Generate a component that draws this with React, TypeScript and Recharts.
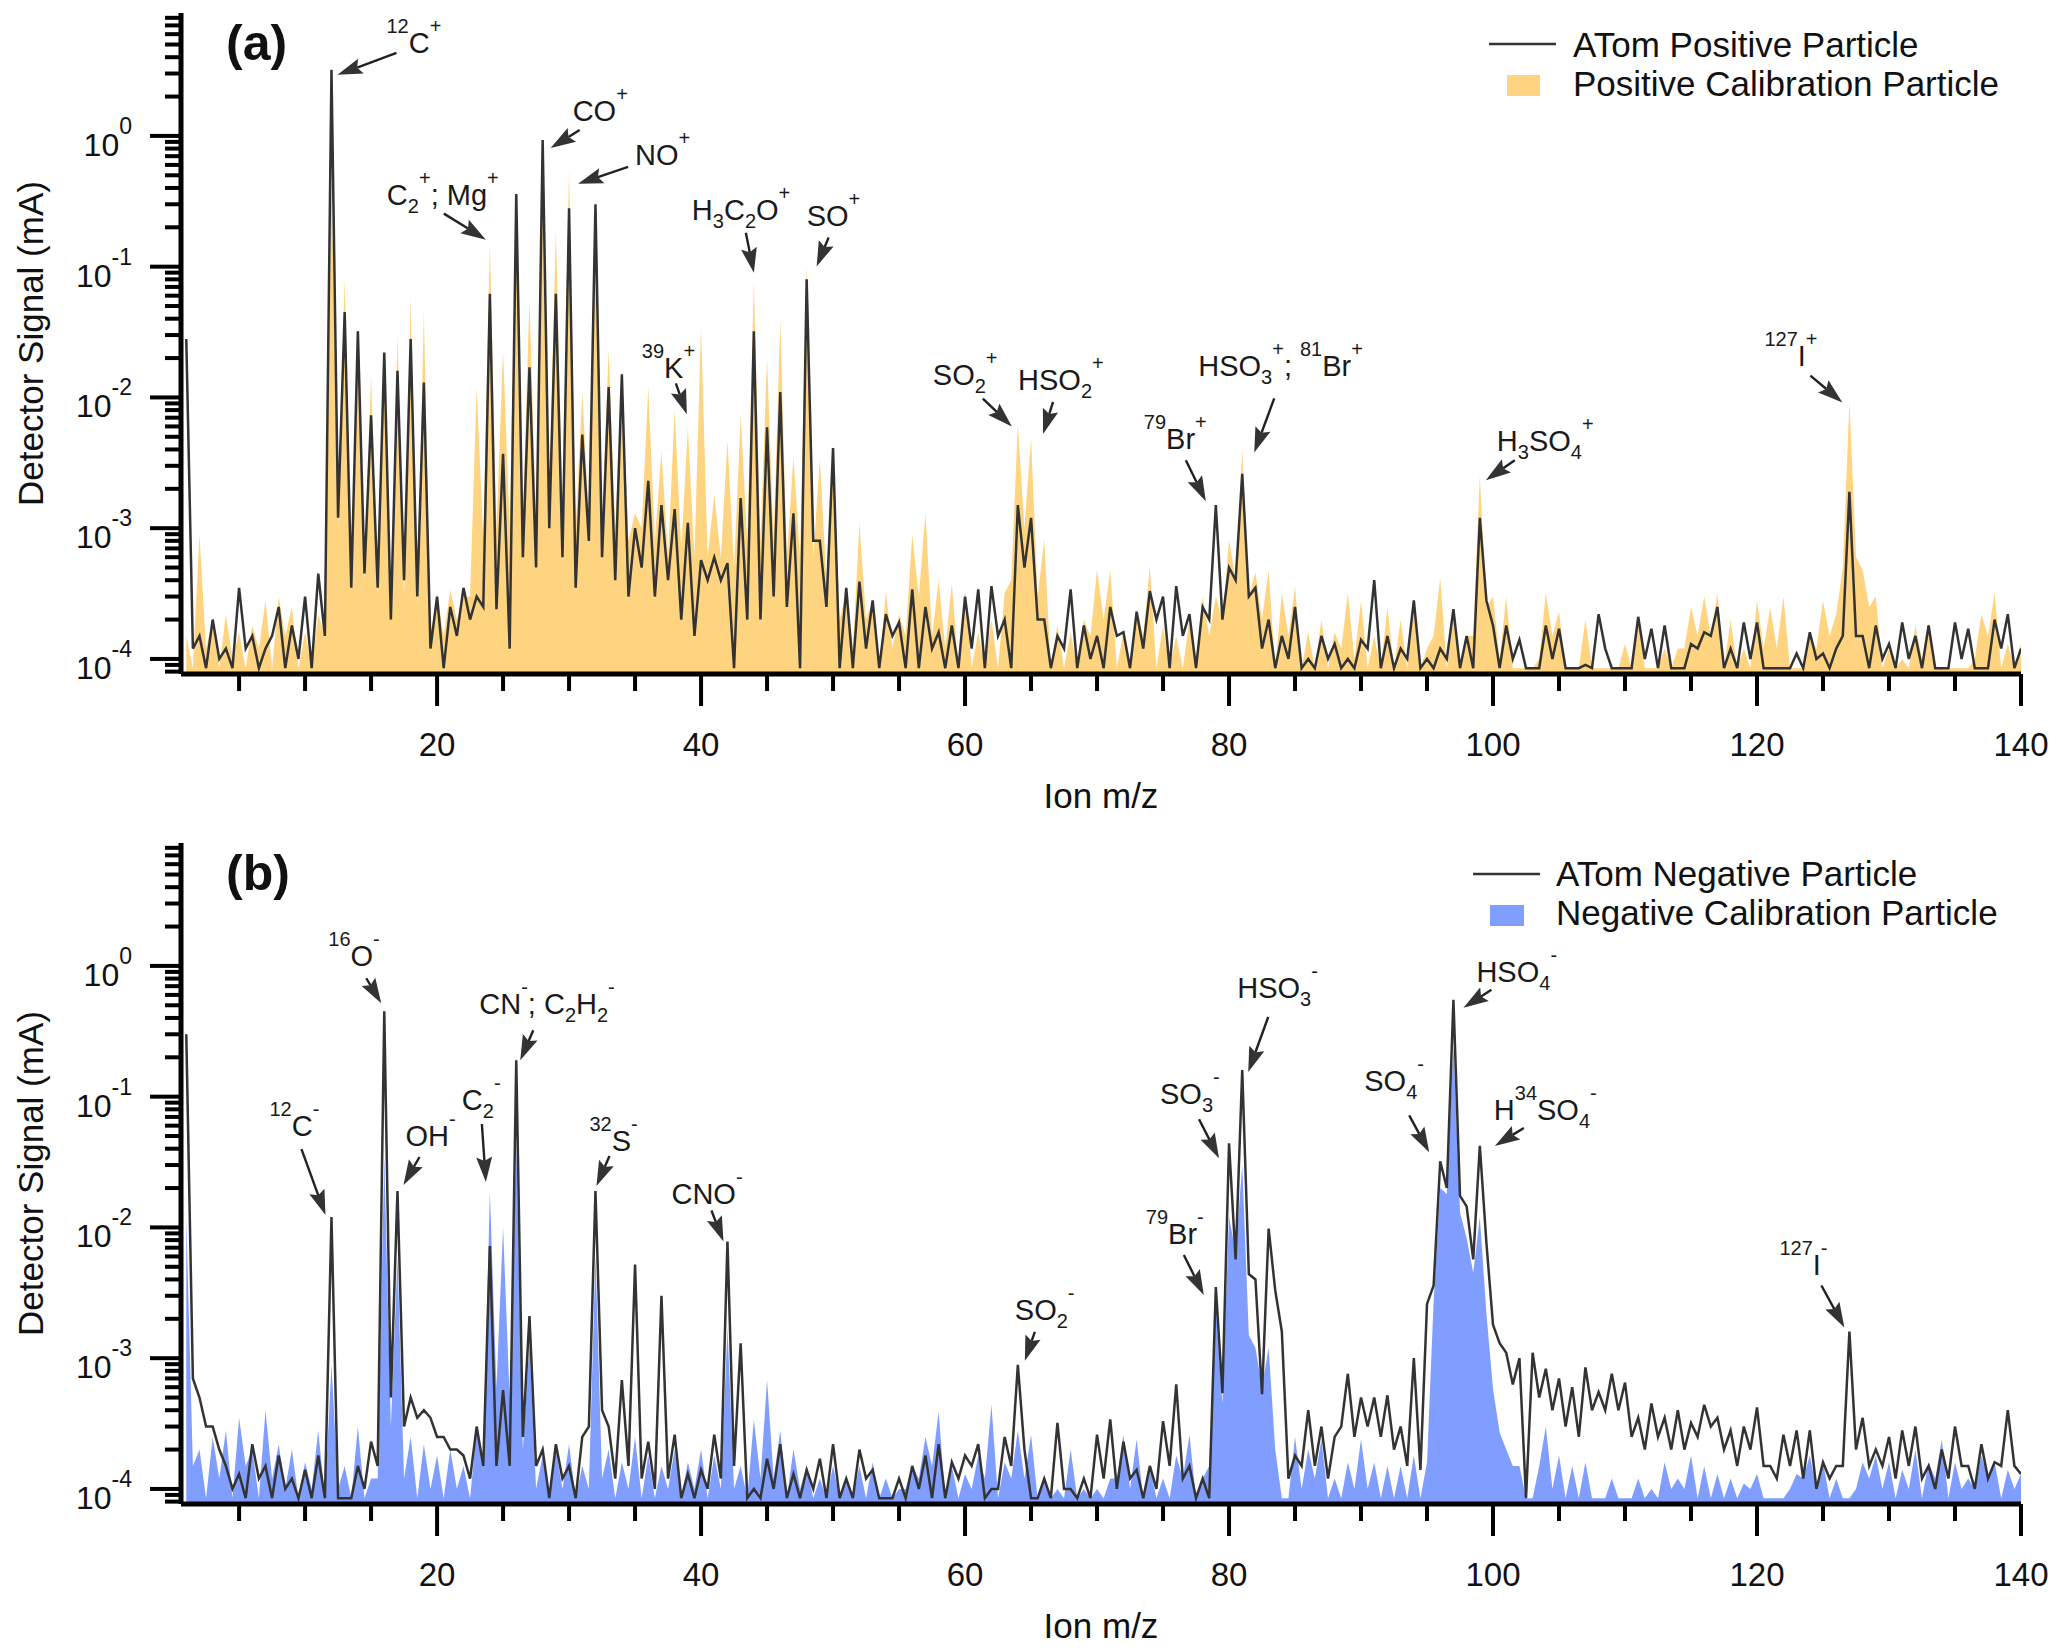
import React from 'react';
import { ComposedChart, Area, Line, XAxis, YAxis, ReferenceDot, Legend } from 'recharts';

const FONT = '"Liberation Sans", Arial, Helvetica, sans-serif';
const W = 2067;
const H = 825;
const Y_MIN = 7.67e-5;
const Y_MAX = 8.71;
const FLOOR = 8.5e-5; // detection floor where the traces are clipped
const ORANGE = '#FFD480';
const BLUE = '#809EFF';
const INK = '#333333';

// ---------- axis ticks ----------
const X_TICKS = [5, 10, 15, 20, 25, 30, 35, 40, 45, 50, 55, 60, 65, 70, 75, 80, 85, 90, 95, 100, 105, 110, 115, 120, 125, 130, 135, 140];
const X_LABELS = [20, 40, 60, 80, 100, 120, 140];
const Y_TICKS = [
  8e-5, 9e-5,
  1e-4, 2e-4, 3e-4, 4e-4, 5e-4, 6e-4, 7e-4, 8e-4, 9e-4,
  1e-3, 2e-3, 3e-3, 4e-3, 5e-3, 6e-3, 7e-3, 8e-3, 9e-3,
  1e-2, 2e-2, 3e-2, 4e-2, 5e-2, 6e-2, 7e-2, 8e-2, 9e-2,
  0.1, 0.2, 0.3, 0.4, 0.5, 0.6, 0.7, 0.8, 0.9,
  1, 2, 3, 4, 5, 6, 7, 8,
];
const Y_MAJOR = [1e-4, 1e-3, 1e-2, 1e-1, 1];
const Y_MAJOR_EXP = ['-4', '-3', '-2', '-1', '0'];

// ---------- panel (a): positive spectra ----------
// peak value at integer m/z 1..140 (0 = below floor)
const atomPosPeaks = [
  2.8e-2, 1.5e-4, 2.0e-4, 1.2e-4, 3.5e-4, 1.5e-4, 1.2e-4, 2.5e-4, 1.8e-4, 3.0e-4,
  4.5e-4, 3.2, 4.5e-2, 3.2e-2, 7.3e-3, 2.2e-2, 1.6e-2, 2.8e-2, 1.3e-2, 3.0e-4,
  2.5e-4, 3.5e-4, 3.0e-4, 6.2e-2, 3.7e-3, 3.6e-1, 1.7e-2, 9.3e-1, 6.2e-2, 2.8e-1,
  5.2e-3, 3.0e-1, 1.2e-2, 1.5e-2, 1.0e-3, 2.3e-3, 1.5e-3, 1.4e-3, 1.1e-3, 5.7e-4,
  6.0e-4, 5.4e-4, 1.7e-3, 3.2e-2, 5.9e-3, 1.1e-2, 1.3e-3, 8.0e-2, 8.0e-4, 4.1e-3,
  3.5e-4, 3.9e-4, 2.8e-4, 2.2e-4, 1.9e-4, 3.4e-4, 2.5e-4, 1.6e-4, 1.8e-4, 3.0e-4,
  3.4e-4, 3.6e-4, 2.0e-4, 1.5e-3, 1.2e-3, 2.0e-4, 1.5e-4, 3.4e-4, 1.8e-4, 1.5e-4,
  2.5e-4, 1.6e-4, 2.3e-4, 3.3e-4, 3.0e-4, 3.6e-4, 2.2e-4, 2.5e-4, 1.5e-3, 5.0e-4,
  2.6e-3, 3.5e-4, 2.0e-4, 1.5e-4, 2.5e-4, 1.0e-4, 1.5e-4, 1.3e-4, 1.0e-4, 1.4e-4,
  4.0e-4, 1.5e-4, 1.2e-4, 2.8e-4, 1.0e-4, 1.2e-4, 2.4e-4, 1.5e-4, 1.2e-3, 1.8e-4,
  1.8e-4, 1.4e-4, 0, 1.8e-4, 1.7e-4, 0, 9.0e-5, 2.2e-4, 0, 0,
  2.1e-4, 1.7e-4, 1.8e-4, 0, 1.3e-4, 1.6e-4, 2.5e-4, 1.2e-4, 1.9e-4, 1.9e-4,
  0, 0, 1.1e-4, 1.6e-4, 1.1e-4, 1.2e-4, 1.9e-3, 1.5e-4, 1.8e-4, 1.3e-4,
  1.9e-4, 1.5e-4, 1.8e-4, 0, 1.9e-4, 1.7e-4, 0, 2.0e-4, 2.2e-4, 1.2e-4,
];
// value between peaks at m/z 1.5..139.5
const atomPosValleys = [
  1.2e-4, 0, 1.0e-4, 0, 1.2e-4, 0, 1.5e-4, 0, 1.0e-4, 0,
  1.5e-4, 1.2e-3, 3.5e-4, 4.5e-4, 3.5e-4, 2.0e-4, 4.0e-4, 3.0e-4, 1.2e-4, 0,
  1.5e-4, 2.0e-4, 2.5e-4, 2.4e-4, 1.2e-4, 6.0e-4, 5.0e-4, 1.0e-3, 6.0e-4, 3.5e-4,
  8.0e-4, 6.0e-4, 4.0e-4, 3.0e-4, 5.0e-4, 3.0e-4, 4.0e-4, 2.0e-4, 1.5e-4, 4.0e-4,
  4.0e-4, 0, 2.0e-4, 2.0e-4, 3.0e-4, 2.5e-4, 0, 8.0e-4, 2.5e-4, 0,
  0, 1.2e-4, 0, 1.5e-4, 0, 0, 1.2e-4, 0, 0, 1.2e-4,
  0, 1.5e-4, 0, 5.0e-4, 2.0e-4, 0, 1.2e-4, 0, 1.0e-4, 0,
  1.5e-4, 0, 1.2e-4, 2.0e-4, 0, 1.5e-4, 0, 2.0e-4, 2.0e-4, 4.0e-4,
  3.0e-4, 1.2e-4, 0, 1.0e-4, 0, 0, 1.0e-4, 0, 0, 1.2e-4,
  0, 0, 1.0e-4, 0, 0, 1.0e-4, 0, 0, 2.8e-4, 0,
  1.0e-4, 0, 0, 1.0e-4, 0, 0, 0, 1.2e-4, 0, 0,
  1.0e-4, 0, 0, 0, 1.2e-4, 1.5e-4, 0, 0, 1.0e-4, 0,
  0, 0, 0, 1.0e-4, 0, 1.5e-4, 1.5e-4, 0, 1.0e-4, 0,
  1.0e-4, 0, 0, 0, 1.0e-4, 0, 0, 1.2e-4, 0,
];
const calPosPeaks = [
  1.5e-4, 9.0e-4, 2.0e-4, 2.2e-4, 1.6e-4, 1.8e-4, 2.8e-4, 3.0e-4, 2.5e-4, 1.6e-4,
  2.2e-4, 4.7e-1, 8.2e-2, 2.8e-2, 1.5e-2, 2.4e-2, 3.0e-2, 5.8e-2, 4.6e-2, 3.2e-4,
  3.4e-4, 3.0e-4, 1.2e-2, 1.5e-1, 2.3e-2, 3.3e-1, 5.6e-2, 8.5e-1, 1.9e-1, 5.6e-1,
  1.1e-2, 2.8e-1, 2.3e-2, 1.4e-2, 1.3e-3, 1.2e-2, 3.9e-3, 8.1e-3, 5.8e-3, 3.5e-2,
  1.8e-3, 4.7e-3, 7.2e-3, 7.8e-2, 2.0e-2, 4.0e-2, 3.5e-3, 1.04e-1, 3.4e-3, 4.4e-3,
  3.2e-4, 1.1e-3, 2.8e-4, 3.3e-4, 2.2e-4, 9.0e-4, 1.3e-3, 4.0e-4, 3.8e-4, 3.4e-4,
  1.6e-4, 2.0e-4, 3.2e-4, 6.2e-3, 4.9e-3, 8.2e-4, 1.8e-4, 1.6e-4, 2.0e-4, 4.8e-4,
  4.8e-4, 1.6e-4, 2.2e-4, 5.1e-4, 1.8e-4, 1.5e-4, 2.0e-4, 3.0e-4, 3.0e-4, 8.2e-4,
  4.0e-3, 4.6e-4, 4.8e-4, 3.2e-4, 3.6e-4, 1.6e-4, 2.0e-4, 1.6e-4, 3.2e-4, 2.8e-4,
  1.5e-4, 2.5e-4, 2.0e-4, 2.4e-4, 1.2e-4, 4.2e-4, 2.0e-4, 1.5e-4, 2.5e-3, 3.0e-4,
  3.0e-4, 0, 0, 3.2e-4, 2.3e-4, 0, 2.0e-4, 0, 0, 1.3e-4,
  2.0e-4, 0, 1.2e-4, 1.2e-4, 2.5e-4, 3.0e-4, 3.2e-4, 2.0e-4, 1.2e-4, 2.8e-4,
  2.5e-4, 3.0e-4, 0, 1.5e-4, 2.8e-4, 2.2e-4, 9.3e-3, 4.8e-4, 3.0e-4, 1.2e-4,
  1.0e-4, 1.8e-4, 1.9e-4, 0, 0, 0, 2.2e-4, 3.2e-4, 1.3e-4, 1.3e-4,
];
const calPosValleys = [
  0, 1.2e-4, 0, 1.0e-4, 0, 1.2e-4, 0, 1.5e-4, 0, 0,
  1.5e-4, 1.0e-3, 6.0e-4, 4.0e-4, 3.0e-4, 2.0e-4, 3.0e-4, 2.5e-4, 1.5e-4, 1.5e-4,
  2.0e-4, 3.0e-4, 8.0e-4, 1.0e-3, 1.0e-3, 1.2e-3, 1.2e-3, 2.0e-3, 1.5e-3, 1.0e-3,
  1.2e-3, 1.2e-3, 1.0e-3, 8.0e-4, 1.0e-3, 8.0e-4, 6.0e-4, 7.0e-4, 6.0e-4, 6.0e-4,
  6.0e-4, 5.0e-4, 8.0e-4, 8.0e-4, 8.0e-4, 6.0e-4, 6.0e-4, 6.0e-4, 4.0e-4, 2.0e-4,
  1.2e-4, 2.0e-4, 0, 1.2e-4, 1.5e-4, 3.0e-4, 1.5e-4, 1.2e-4, 0, 0,
  0, 0, 4.0e-4, 1.0e-3, 3.0e-4, 0, 0, 0, 1.5e-4, 2.0e-4,
  0, 0, 1.5e-4, 0, 0, 0, 1.0e-4, 1.5e-4, 2.0e-4, 4.0e-4,
  3.0e-4, 2.0e-4, 0, 1.5e-4, 0, 0, 0, 1.2e-4, 1.0e-4, 0,
  0, 0, 0, 0, 1.5e-4, 0, 0, 1.5e-4, 2.5e-4, 1.0e-4,
  0, 0, 1.0e-4, 1.5e-4, 0, 0, 0, 0, 0, 0,
  0, 0, 0, 1.2e-4, 1.5e-4, 1.5e-4, 0, 0, 0, 1.2e-4,
  1.2e-4, 0, 0, 1.2e-4, 1.5e-4, 5.0e-4, 6.0e-4, 2.5e-4, 0, 0,
  0, 1.0e-4, 0, 0, 0, 1.0e-4, 1.5e-4, 0, 0,
];

// ---------- panel (b): negative spectra ----------
const atomNegPeaks = [
  3.0e-1, 5.0e-4, 3.0e-4, 1.5e-4, 1.3e-4, 2.2e-4, 1.5e-4, 1.8e-4, 1.2e-4, 1.4e-4,
  1.8e-4, 1.2e-2, 0, 1.5e-4, 2.3e-4, 4.5e-1, 1.9e-2, 5.0e-4, 4.0e-4, 2.5e-4,
  2.0e-4, 1.8e-4, 3.0e-4, 7.2e-3, 5.7e-4, 1.9e-1, 2.1e-3, 2.0e-4, 2.2e-4, 1.5e-4,
  2.5e-4, 1.9e-2, 3.0e-4, 6.8e-4, 5.2e-3, 2.3e-4, 3.0e-3, 2.6e-4, 1.3e-4, 1.4e-4,
  2.6e-4, 7.8e-3, 1.3e-3, 1.0e-4, 1.7e-4, 2.2e-4, 1.3e-4, 1.4e-4, 1.7e-4, 2.2e-4,
  1.2e-4, 2.0e-4, 1.4e-4, 0, 1.2e-4, 1.5e-4, 1.8e-4, 2.2e-4, 1.6e-4, 1.8e-4,
  2.2e-4, 1.0e-4, 2.5e-4, 8.9e-4, 0, 1.2e-4, 3.2e-4, 1.0e-4, 1.2e-4, 2.6e-4,
  3.4e-4, 2.3e-4, 1.4e-4, 1.5e-4, 3.3e-4, 6.3e-4, 1.5e-4, 1.2e-4, 3.5e-3, 4.4e-2,
  1.6e-1, 4.0e-3, 9.8e-3, 1.6e-3, 1.8e-4, 4.0e-4, 3.0e-4, 2.5e-4, 7.6e-4, 5.0e-4,
  5.0e-4, 5.2e-4, 3.0e-4, 1.0e-3, 2.6e-3, 3.2e-2, 5.5e-1, 1.45e-2, 4.2e-2, 1.8e-3,
  1.1e-3, 1.0e-3, 1.1e-3, 8.3e-4, 7.0e-4, 6.0e-4, 8.5e-4, 5.5e-4, 7.6e-4, 6.5e-4,
  3.5e-4, 4.5e-4, 3.5e-4, 4.0e-4, 3.2e-4, 4.4e-4, 3.5e-4, 2.8e-4, 3.0e-4, 4.2e-4,
  1.5e-4, 2.6e-4, 2.8e-4, 2.8e-4, 1.6e-4, 1.5e-4, 1.6e-3, 3.5e-4, 2.0e-4, 2.5e-4,
  2.8e-4, 3.0e-4, 1.5e-4, 2.0e-4, 3.0e-4, 1.5e-4, 2.2e-4, 1.6e-4, 4.0e-4, 1.3e-4,
];
const atomNegValleys = [
  7.0e-4, 3.0e-4, 2.0e-4, 1.0e-4, 0, 1.2e-4, 0, 1.0e-4, 0, 0,
  0, 0, 0, 1.0e-4, 1.5e-4, 5.0e-4, 3.0e-4, 3.5e-4, 3.5e-4, 2.5e-4,
  2.0e-4, 1.2e-4, 1.5e-4, 1.5e-4, 1.5e-4, 2.5e-4, 1.5e-4, 0, 1.2e-4, 0,
  3.0e-4, 4.0e-4, 1.2e-4, 1.5e-4, 1.2e-4, 1.0e-4, 1.2e-4, 0, 0, 1.0e-4,
  1.2e-4, 1.5e-4, 0, 0, 1.0e-4, 0, 0, 1.0e-4, 0, 0,
  0, 1.2e-4, 0, 0, 0, 1.0e-4, 0, 0, 1.2e-4, 1.5e-4,
  0, 1.0e-4, 1.5e-4, 2.0e-4, 0, 0, 1.0e-4, 0, 0, 1.2e-4,
  1.0e-4, 1.2e-4, 0, 1.0e-4, 1.5e-4, 1.2e-4, 0, 0, 5.4e-4, 5.7e-3,
  4.4e-3, 5.3e-4, 3.3e-3, 1.2e-4, 1.5e-4, 1.5e-4, 1.2e-4, 3.0e-4, 2.5e-4, 3.0e-4,
  2.5e-4, 2.0e-4, 1.5e-4, 1.4e-4, 3.6e-3, 2.0e-2, 1.74e-2, 5.7e-3, 7.6e-3, 1.3e-3,
  6.3e-4, 0, 5.0e-4, 4.0e-4, 3.0e-4, 2.5e-4, 4.0e-4, 4.0e-4, 4.0e-4, 2.5e-4,
  2.0e-4, 2.5e-4, 2.0e-4, 2.0e-4, 2.5e-4, 3.0e-4, 2.0e-4, 1.5e-4, 2.0e-4, 1.5e-4,
  1.2e-4, 1.5e-4, 1.2e-4, 1.0e-4, 1.2e-4, 1.5e-4, 2.0e-4, 1.5e-4, 1.5e-4, 1.2e-4,
  1.5e-4, 1.2e-4, 1.0e-4, 1.2e-4, 1.5e-4, 1.0e-4, 1.2e-4, 1.5e-4, 1.5e-4,
];
const calNegPeaks = [
  1.2e-2, 2.0e-4, 2.5e-4, 2.8e-4, 3.5e-4, 2.0e-4, 4.0e-4, 2.2e-4, 2.0e-4, 1.6e-4,
  2.8e-4, 9.0e-4, 1.5e-4, 3.0e-4, 1.2e-4, 3.5e-2, 5.9e-3, 2.5e-4, 2.2e-4, 1.8e-4,
  2.0e-4, 1.5e-4, 2.8e-4, 1.9e-2, 1.0e-2, 4.3e-2, 1.3e-3, 1.8e-4, 2.0e-4, 2.2e-4,
  1.5e-4, 6.1e-3, 2.0e-4, 1.6e-4, 2.5e-4, 1.8e-4, 1.5e-4, 2.0e-4, 1.6e-4, 2.0e-4,
  1.8e-4, 1.7e-3, 1.5e-4, 3.4e-4, 6.8e-4, 2.8e-4, 2.0e-4, 1.5e-4, 1.2e-4, 1.5e-4,
  1.2e-4, 1.5e-4, 1.6e-4, 1.2e-4, 1.0e-4, 1.5e-4, 2.5e-4, 3.9e-4, 1.5e-4, 1.3e-4,
  1.8e-4, 4.4e-4, 1.6e-4, 2.8e-4, 2.6e-4, 1.2e-4, 1.0e-4, 2.0e-4, 1.0e-4, 1.0e-4,
  1.2e-4, 2.6e-4, 2.4e-4, 1.5e-4, 1.2e-4, 1.8e-4, 2.6e-4, 1.2e-4, 2.5e-3, 1.2e-2,
  3.0e-2, 1.2e-3, 1.2e-3, 0, 2.5e-4, 2.0e-4, 2.4e-4, 1.2e-4, 1.6e-4, 2.4e-4,
  1.6e-4, 1.5e-4, 1.5e-4, 1.8e-4, 1.6e-4, 2.0e-2, 2.5e-1, 8.3e-3, 1.2e-2, 5.8e-4,
  2.0e-4, 1.5e-4, 0, 3.0e-4, 1.8e-4, 1.5e-4, 1.6e-4, 0, 1.2e-4, 0,
  1.2e-4, 1.0e-4, 1.6e-4, 1.2e-4, 1.8e-4, 1.5e-4, 1.3e-4, 1.2e-4, 1.1e-4, 1.3e-4,
  0, 0, 1.3e-4, 1.8e-4, 1.6e-4, 1.2e-4, 0, 1.6e-4, 1.8e-4, 1.6e-4,
  1.4e-4, 2.0e-4, 1.6e-4, 2.4e-4, 1.6e-4, 1.2e-4, 1.8e-4, 1.6e-4, 1.4e-4, 1.3e-4,
];
const calNegValleys = [
  1.5e-4, 0, 1.2e-4, 0, 1.5e-4, 0, 1.2e-4, 1.0e-4, 0, 1.0e-4,
  0, 1.0e-4, 0, 0, 1.2e-4, 3.0e-4, 1.2e-4, 0, 1.0e-4, 0,
  1.0e-4, 0, 1.5e-4, 6.0e-4, 5.0e-4, 2.0e-4, 1.0e-4, 0, 1.0e-4, 0,
  1.0e-4, 1.2e-4, 0, 1.0e-4, 0, 0, 1.0e-4, 0, 1.0e-4, 0,
  1.0e-4, 1.0e-4, 0, 1.2e-4, 1.2e-4, 0, 1.0e-4, 0, 0, 0,
  0, 0, 0, 0, 1.0e-4, 1.2e-4, 1.5e-4, 0, 0, 1.0e-4,
  1.2e-4, 0, 1.2e-4, 1.2e-4, 0, 0, 0, 0, 0, 0,
  1.2e-4, 1.0e-4, 0, 0, 0, 1.2e-4, 0, 1.5e-4, 4.5e-4, 6.5e-3,
  1.5e-3, 6.0e-4, 2.0e-4, 0, 1.0e-4, 1.2e-4, 0, 0, 1.0e-4, 1.0e-4,
  0, 0, 0, 0, 2.7e-3, 1.8e-2, 1.3e-2, 4.5e-3, 2.2e-3, 2.7e-4,
  1.5e-4, 0, 1.5e-4, 1.0e-4, 0, 0, 0, 0, 0, 0,
  0, 0, 1.0e-4, 1.0e-4, 0, 0, 0, 0, 1.0e-4, 0,
  0, 1.0e-4, 1.2e-4, 1.0e-4, 0, 0, 1.0e-4, 1.2e-4, 1.0e-4, 0,
  1.0e-4, 0, 1.2e-4, 0, 1.0e-4, 1.0e-4, 1.2e-4, 0, 1.0e-4,
];

// ---------- peak annotations (anchored on data coords, offsets are layout) ----------
type Seg = [string, string?];
type Ann = { m: number; v: number; tip: [number, number]; tail: [number, number]; text: [number, number]; label: Seg[] };

const annPos: Ann[] = [
  { m: 12, v: 3.2, tip: [6, 5], tail: [65, -17], text: [55, -17], label: [['12', 'sup'], ['C'], ['+', 'sup']] },
  { m: 24, v: 0.15, tip: [-4, -4], tail: [-46, -30], text: [-103, -39], label: [['C'], ['2', 'sub'], ['+', 'sup'], ['; Mg'], ['+', 'sup']] },
  { m: 28, v: 0.93, tip: [8, 8], tail: [37, -10], text: [30, -19], label: [['CO'], ['+', 'sup']] },
  { m: 30, v: 0.56, tip: [9, 15], tail: [59, -2], text: [66, -4], label: [['NO'], ['+', 'sup']] },
  { m: 39, v: 5.8e-3, tip: [-1, -14], tail: [-12, -45], text: [-46, -50], label: [['39', 'sup'], ['K'], ['+', 'sup']] },
  { m: 44, v: 7.8e-2, tip: [0, -8], tail: [-8, -48], text: [-62, -61], label: [['H'], ['3', 'sub'], ['C'], ['2', 'sub'], ['O'], ['+', 'sup']] },
  { m: 48, v: 0.104, tip: [10, 2], tail: [22, -27], text: [0, -38], label: [['SO'], ['+', 'sup']] },
  { m: 64, v: 6.2e-3, tip: [-6, 2], tail: [-35, -26], text: [-85, -40], label: [['SO'], ['2', 'sub'], ['+', 'sup']] },
  { m: 65, v: 4.9e-3, tip: [12, -4], tail: [22, -36], text: [-13, -48], label: [['HSO'], ['2', 'sub'], ['+', 'sup']] },
  { m: 79, v: 1.5e-3, tip: [-10, -4], tail: [-30, -45], text: [-72, -56], label: [['79', 'sup'], ['Br'], ['+', 'sup']] },
  { m: 81, v: 4.0e-3, tip: [12, 3], tail: [32, -51], text: [-44, -73], label: [['HSO'], ['3', 'sub'], ['+', 'sup'], ['; '], ['81', 'sup'], ['Br'], ['+', 'sup']] },
  { m: 99, v: 2.5e-3, tip: [6, 4], tail: [35, -16], text: [17, -25], label: [['H'], ['3', 'sub'], ['SO'], ['4', 'sub'], ['+', 'sup']] },
  { m: 127, v: 9.3e-3, tip: [-7, 1], tail: [-39, -26], text: [-85, -36], label: [['127', 'sup'], ['I'], ['+', 'sup']] },
];
const annNeg: Ann[] = [
  { m: 12, v: 1.2e-2, tip: [-6, -2], tail: [-30, -68], text: [-62, -81], label: [['12', 'sup'], ['C'], ['-', 'sup']] },
  { m: 16, v: 0.45, tip: [-3, -8], tail: [-18, -33], text: [-56, -45], label: [['16', 'sup'], ['O'], ['-', 'sup']] },
  { m: 17, v: 1.9e-2, tip: [6, -6], tail: [22, -34], text: [8, -45], label: [['OH'], ['-', 'sup']] },
  { m: 24, v: 1.9e-2, tip: [-4, -9], tail: [-8, -67], text: [-28, -81], label: [['C'], ['2', 'sub'], ['-', 'sup']] },
  { m: 26, v: 0.19, tip: [4, 0], tail: [17, -30], text: [-37, -46], label: [['CN'], ['-', 'sup'], ['; C'], ['2', 'sub'], ['H'], ['2', 'sub'], ['-', 'sup']] },
  { m: 32, v: 1.9e-2, tip: [1, -5], tail: [14, -35], text: [-6, -40], label: [['32', 'sup'], ['S'], ['-', 'sup']] },
  { m: 42, v: 7.8e-3, tip: [-4, 0], tail: [-16, -31], text: [-56, -38], label: [['CNO'], ['-', 'sup']] },
  { m: 64, v: 8.9e-4, tip: [7, -4], tail: [17, -33], text: [-3, -45], label: [['SO'], ['2', 'sub'], ['-', 'sup']] },
  { m: 79, v: 3.5e-3, tip: [-12, 8], tail: [-32, -32], text: [-70, -43], label: [['79', 'sup'], ['Br'], ['-', 'sup']] },
  { m: 80, v: 4.4e-2, tip: [-10, 15], tail: [-30, -24], text: [-69, -39], label: [['SO'], ['3', 'sub'], ['-', 'sup']] },
  { m: 81, v: 0.16, tip: [6, 2], tail: [26, -53], text: [-5, -72], label: [['HSO'], ['3', 'sub'], ['-', 'sup']] },
  { m: 96, v: 3.2e-2, tip: [-11, -9], tail: [-31, -46], text: [-76, -70], label: [['SO'], ['4', 'sub'], ['-', 'sup']] },
  { m: 97, v: 0.55, tip: [10, 8], tail: [38, -10], text: [23, -18], label: [['HSO'], ['4', 'sub'], ['-', 'sup']] },
  { m: 99, v: 4.2e-2, tip: [15, 0], tail: [44, -18], text: [14, -26], label: [['H'], ['34', 'sup'], ['SO'], ['4', 'sub'], ['-', 'sup']] },
  { m: 127, v: 1.6e-3, tip: [-5, -4], tail: [-28, -46], text: [-70, -56], label: [['127', 'sup'], ['I'], ['-', 'sup']] },
];

// ---------- helpers ----------
const clampFloor = (v: number) => (v > FLOOR ? v : FLOOR);

function buildRows(atomPeaks: number[], atomValleys: number[], calPeaks: number[], calValleys: number[]) {
  const rows: { m: number; atom: number; cal: number }[] = [];
  for (let i = 0; i < atomPeaks.length; i++) {
    rows.push({ m: i + 1, atom: clampFloor(atomPeaks[i]), cal: clampFloor(calPeaks[i]) });
    if (i < atomValleys.length) {
      rows.push({ m: i + 1.5, atom: clampFloor(atomValleys[i]), cal: clampFloor(calValleys[i]) });
    }
  }
  return rows;
}

const posRows = buildRows(atomPosPeaks, atomPosValleys, calPosPeaks, calPosValleys);
const negRows = buildRows(atomNegPeaks, atomNegValleys, calNegPeaks, calNegValleys);

function XTick(props: any) {
  const { x, y, payload } = props;
  const v = payload.value;
  const labeled = X_LABELS.includes(v);
  return (
    <g>
      <line x1={x} x2={x} y1={y} y2={y + (labeled ? 32 : 17)} stroke="#000" strokeWidth={4} />
      {labeled && (
        <text x={x} y={y + 82} textAnchor="middle" fontSize={33} fontFamily={FONT} fill="#111">
          {v}
        </text>
      )}
    </g>
  );
}

function YTick(props: any) {
  const { x, y, payload } = props;
  const v = payload.value;
  const idx = Y_MAJOR.findIndex((t) => Math.abs(t - v) / t < 1e-6);
  const major = idx >= 0;
  return (
    <g>
      <line x1={x} x2={x - (major ? 31 : 16)} y1={y} y2={y} stroke="#000" strokeWidth={4} />
      {major && (
        <text x={x - 49} y={y + 20} textAnchor="end" fontSize={32} fontFamily={FONT} fill="#111">
          10
          <tspan dy={-22} fontSize={23}>
            {Y_MAJOR_EXP[idx]}
          </tspan>
        </text>
      )}
    </g>
  );
}

// axis title that keeps its own position (props px/py are not overwritten by the axis)
function AxisTitle({ px, py, rot, text }: { px: number; py: number; rot?: boolean; text: string }) {
  return (
    <text
      x={px}
      y={py}
      textAnchor="middle"
      fontSize={35}
      fontFamily={FONT}
      fill="#111"
      transform={rot ? `rotate(-90, ${px}, ${py})` : undefined}
    >
      {text}
    </text>
  );
}

function Annotation({ cx, cy, a }: { cx: number; cy: number; a: Ann }) {
  if (cx == null || cy == null || isNaN(cx) || isNaN(cy)) return null;
  const tx = cx + a.tip[0];
  const ty = cy + a.tip[1];
  const sx = cx + a.tail[0];
  const sy = cy + a.tail[1];
  const dx = tx - sx;
  const dy = ty - sy;
  const L = Math.hypot(dx, dy) || 1;
  const ux = dx / L;
  const uy = dy / L;
  const nx = -uy;
  const ny = ux;
  const HL = 25;
  const HW = 8;
  const NOTCH = 4;
  const bx = tx - ux * HL;
  const by = ty - uy * HL;
  const p1 = [bx + nx * HW, by + ny * HW];
  const p2 = [tx - ux * (HL - NOTCH), ty - uy * (HL - NOTCH)];
  const p3 = [bx - nx * HW, by - ny * HW];
  let cur = 0;
  const spans = a.label.map(([t, kind], i) => {
    const target = kind === 'sup' ? -20 : kind === 'sub' ? 8 : 0;
    const d = target - cur;
    cur = target;
    return (
      <tspan key={i} dy={d} fontSize={kind ? 20 : 29}>
        {t}
      </tspan>
    );
  });
  return (
    <g>
      <line x1={sx} y1={sy} x2={p2[0]} y2={p2[1]} stroke="#222" strokeWidth={2.4} />
      <polygon points={`${tx},${ty} ${p1[0]},${p1[1]} ${p2[0]},${p2[1]} ${p3[0]},${p3[1]}`} fill={INK} />
      <text x={cx + a.text[0]} y={cy + a.text[1]} fontFamily={FONT} fill="#1a1a1a" style={{ whiteSpace: 'pre' }}>
        {spans}
      </text>
    </g>
  );
}

type PanelCfg = {
  rows: { m: number; atom: number; cal: number }[];
  anns: Ann[];
  fill: string;
  tag: string;
  lineName: string;
  fillName: string;
  marginTop: number;
  marginBottom: number;
  tagBaseline: number;
  leg: { lineX1: number; lineX2: number; lineY: number; textX: number; b1: number; b2: number; sw: [number, number, number, number] };
};

function Overlay({ cfg }: { cfg: PanelCfg }) {
  const { leg } = cfg;
  return (
    <svg width={W} height={H} style={{ position: 'absolute', left: 0, top: 0, pointerEvents: 'none' }}>
      <text x={226} y={cfg.tagBaseline} fontSize={50} fontWeight="bold" fontFamily={FONT} fill="#111">
        {cfg.tag}
      </text>
      <line x1={leg.lineX1} x2={leg.lineX2} y1={leg.lineY} y2={leg.lineY} stroke={INK} strokeWidth={2.5} />
      <text x={leg.textX} y={leg.b1} fontSize={35} fontFamily={FONT} fill="#111">
        {cfg.lineName}
      </text>
      <rect x={leg.sw[0]} y={leg.sw[1]} width={leg.sw[2]} height={leg.sw[3]} fill={cfg.fill} />
      <text x={leg.textX} y={leg.b2} fontSize={35} fontFamily={FONT} fill="#111">
        {cfg.fillName}
      </text>
    </svg>
  );
}

function Panel({ cfg }: { cfg: PanelCfg }) {
  const plotTop = cfg.marginTop;
  const plotBottom = H - cfg.marginBottom - 60;
  const yMid = (plotTop + plotBottom) / 2;
  return (
    <ComposedChart
      width={W}
      height={H}
      data={cfg.rows}
      margin={{ top: cfg.marginTop, right: 46, bottom: cfg.marginBottom, left: 0 }}
    >
      <XAxis
        dataKey="m"
        type="number"
        domain={[0.6, 140]}
        allowDataOverflow
        ticks={X_TICKS}
        interval={0}
        tickSize={0}
        tickMargin={0}
        tickLine={false}
        tick={(p: any) => <XTick {...p} />}
        axisLine={{ stroke: '#000', strokeWidth: 5 }}
        height={60}
        label={<AxisTitle px={1101} py={plotBottom + 134} text="Ion m/z" />}
      />
      <YAxis
        type="number"
        scale="log"
        domain={[Y_MIN, Y_MAX]}
        allowDataOverflow
        ticks={Y_TICKS}
        interval={0}
        tickSize={0}
        tickMargin={0}
        tickLine={false}
        tick={(p: any) => <YTick {...p} />}
        axisLine={{ stroke: '#000', strokeWidth: 5 }}
        width={181}
        label={<AxisTitle px={43} py={yMid} rot text="Detector Signal (mA)" />}
      />
      <Area
        dataKey="cal"
        type="linear"
        stroke="none"
        fill={cfg.fill}
        fillOpacity={1}
        baseValue={Y_MIN}
        dot={false}
        activeDot={false}
        isAnimationActive={false}
      />
      <Line
        dataKey="atom"
        type="linear"
        stroke={INK}
        strokeWidth={2.5}
        dot={false}
        activeDot={false}
        isAnimationActive={false}
      />
      {cfg.anns.map((a, i) => (
        <ReferenceDot
          key={i}
          x={a.m}
          y={a.v}
          r={0}
          ifOverflow="visible"
          shape={(p: any) => <Annotation cx={p.cx} cy={p.cy} a={a} />}
        />
      ))}
      <Legend
        layout="horizontal"
        verticalAlign="middle"
        align="center"
        wrapperStyle={{ left: 0, top: 0, width: W, height: H, pointerEvents: 'none' }}
        content={() => <Overlay cfg={cfg} />}
      />
    </ComposedChart>
  );
}

const panelA: PanelCfg = {
  rows: posRows,
  anns: annPos,
  fill: ORANGE,
  tag: '(a)',
  lineName: 'ATom Positive Particle',
  fillName: 'Positive Calibration Particle',
  marginTop: 13,
  marginBottom: 91,
  tagBaseline: 60,
  leg: { lineX1: 1489, lineX2: 1556, lineY: 44, textX: 1573, b1: 57, b2: 96, sw: [1507, 75, 33, 21] },
};

const panelB: PanelCfg = {
  rows: negRows,
  anns: annNeg,
  fill: BLUE,
  tag: '(b)',
  lineName: 'ATom Negative Particle',
  fillName: 'Negative Calibration Particle',
  marginTop: 18,
  marginBottom: 86,
  tagBaseline: 65,
  leg: { lineX1: 1473, lineX2: 1540, lineY: 49, textX: 1556, b1: 61, b2: 100, sw: [1490, 80, 34, 21] },
};

export default function App() {
  return (
    <div style={{ position: 'absolute', left: 0, top: 0, width: W, height: 1650, background: '#fff', fontFamily: FONT }}>
      <div style={{ position: 'absolute', left: 0, top: 0 }}>
        <Panel cfg={panelA} />
      </div>
      <div style={{ position: 'absolute', left: 0, top: 825 }}>
        <Panel cfg={panelB} />
      </div>
    </div>
  );
}
